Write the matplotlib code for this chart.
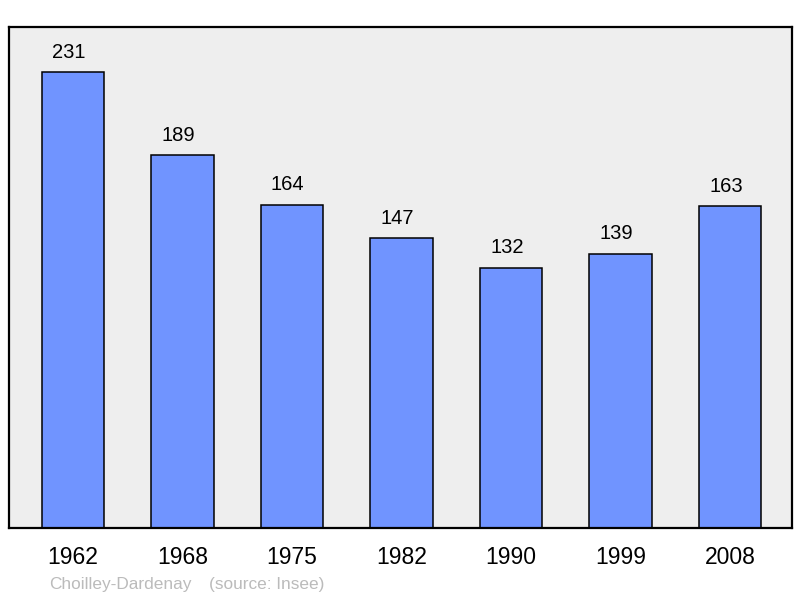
import matplotlib.pyplot as plt

plt.rcParams['font.family'] = ['Liberation Sans', 'DejaVu Sans']

years = ['1962', '1968', '1975', '1982', '1990', '1999', '2008']
population = [231, 189, 164, 147, 132, 139, 163]

fig = plt.figure(figsize=(8, 5.98), dpi=100)
ax = fig.add_axes([9 / 800, 70 / 598, 783 / 800, 501 / 598])
ax.set_facecolor('#eeeeee')

x = list(range(len(years)))
bars = ax.bar(x, population, width=0.57, color='#7094ff', edgecolor='black', linewidth=1.1, zorder=2)

# value labels sit a little left of the bar centre in the original
for xi, val in zip(x, population):
    ax.annotate(str(val), (xi, val), xytext=(-3, 7.5), textcoords='offset points',
                ha='center', va='bottom', fontsize=14.5)

ax.set_xlim(-0.584, 6.566)
ax.set_ylim(0, 254)
ax.set_yticks([])
ax.set_xticks(x)
ax.set_xticklabels(years, fontsize=16.5)
ax.tick_params(axis='x', length=0, pad=13)
for s in ax.spines.values():
    s.set_linewidth(1.6)
    s.set_color('black')

fig.text(49 / 800, 1 - 584 / 598, 'Choilley-Dardenay', fontsize=12.4, color='#bbbbbb', va='center')
fig.text(209 / 800, 1 - 584 / 598, '(source: Insee)', fontsize=12.4, color='#bbbbbb', va='center')

fig.savefig('out.png', dpi=100)
